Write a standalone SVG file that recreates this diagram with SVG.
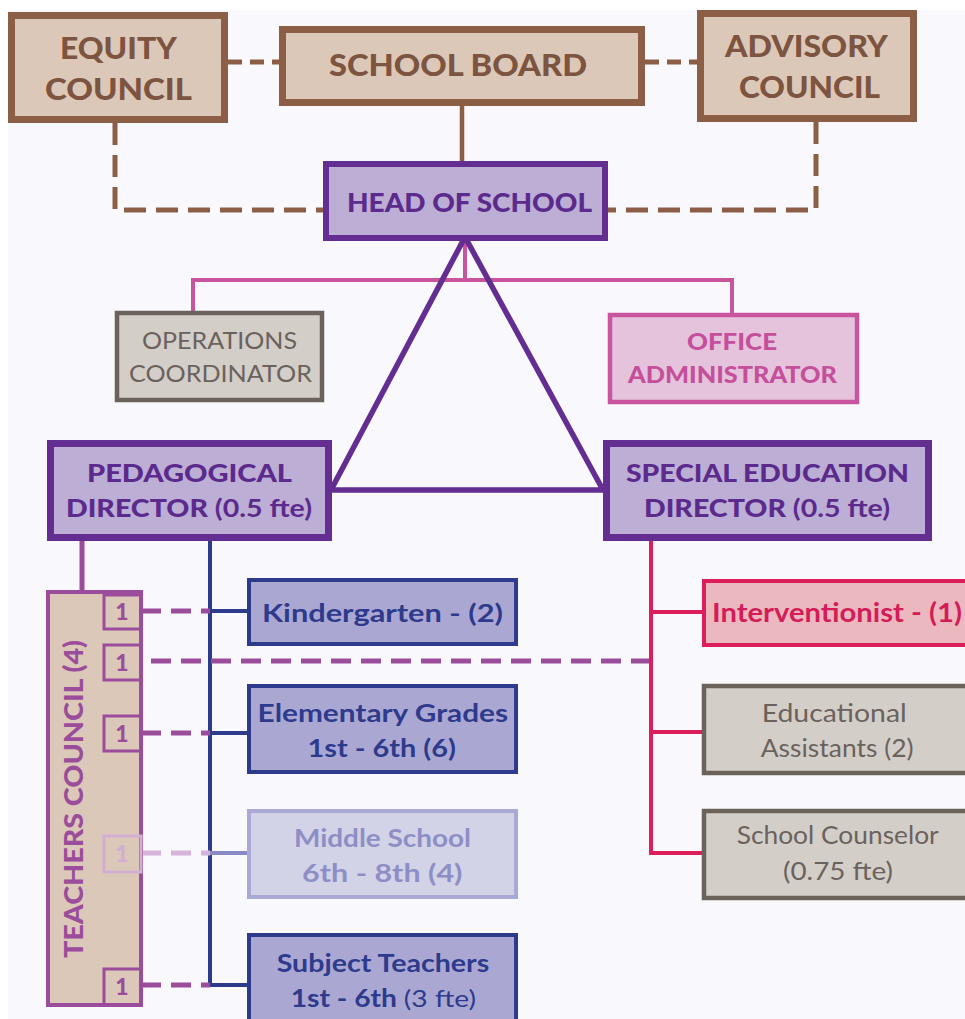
<svg xmlns="http://www.w3.org/2000/svg" width="965" height="1019" viewBox="0 0 965 1019">
<style>
text{font-family:"Lato","Open Sans","Liberation Sans",sans-serif;}
.h{font-weight:900;}
.b{font-weight:700;}
.r{font-weight:400;}
.brown{fill:#dcc8b8;stroke:#8b5e45;stroke-width:7;}
.tb{fill:#7d5440;}
.dir{fill:#bcaed4;stroke:#632d91;stroke-width:7;}
.tp{fill:#5c2a8c;}
.gray{fill:#d4cec9;stroke:#6c625c;stroke-width:4.5;}
.tg{fill:#6b625d;}
.blue{fill:#aaa8d3;stroke:#2e3a8c;stroke-width:4;}
.tbl{fill:#2e3a8c;}
.one{fill:none;stroke:#9b4d9c;stroke-width:3;}
.t1{fill:#9b4d9c;font-weight:900;font-size:23px;text-anchor:middle;}
.dbrown{fill:none;stroke:#8b5e45;stroke-width:5;stroke-dasharray:22 10;}
.dpurp{fill:none;stroke:#9b4d9c;stroke-width:5;stroke-dasharray:20 10;}
</style>
<rect x="8" y="10" width="957" height="1009" fill="#f8f8fd"/>

<g id="connectors">
  <path class="dbrown" d="M228 62 H279" style="stroke-dasharray:14 8"/>
  <path class="dbrown" d="M645 62 H697" style="stroke-dasharray:14 8"/>
  <path class="dbrown" d="M115 123 V210 H323"/>
  <path class="dbrown" d="M816 122 V210 H608"/>
  <path d="M462 106 V161" stroke="#8b5e45" stroke-width="4.5" fill="none"/>
  <path d="M465 240 V280 M193 312 V280 H732 V313" stroke="#c9559f" stroke-width="4" fill="none"/>
  <path d="M465 237 L331 490 H603 Z" stroke="#632d91" stroke-width="5.5" fill="none" stroke-linejoin="miter"/>
  <path d="M82 541 V591" stroke="#9b4d9c" stroke-width="5" fill="none"/>
  <path d="M210 541 V985 H247 M210 611 H247 M210 733 H247" stroke="#2e3a8c" stroke-width="4" fill="none"/>
  <path d="M210 853 H247" stroke="#8a8ac6" stroke-width="4" fill="none"/>
  <path class="dpurp" d="M141 611 H210"/>
  <path class="dpurp" d="M651 661 H141"/>
  <path class="dpurp" d="M141 733 H210"/>
  <path class="dpurp" d="M141 853 H210" style="stroke:#d6b3d8"/>
  <path class="dpurp" d="M141 985 H210"/>
  <path d="M651 541 V853 H703 M651 612 H703 M651 732 H703" stroke="#dc1e5a" stroke-width="4" fill="none"/>
</g>

<g id="equity-council">
  <rect class="brown" x="11.5" y="15.5" width="213" height="104"/>
  <text class="h tb" x="118.5" y="59" font-size="31" text-anchor="middle" textLength="117" lengthAdjust="spacingAndGlyphs">EQUITY</text>
  <text class="h tb" x="118.5" y="100" font-size="31" text-anchor="middle" textLength="147" lengthAdjust="spacingAndGlyphs">COUNCIL</text>
</g>
<g id="school-board">
  <rect class="brown" x="282.5" y="29.5" width="359" height="73"/>
  <text class="h tb" x="458" y="76" font-size="30" text-anchor="middle" textLength="258" lengthAdjust="spacingAndGlyphs">SCHOOL BOARD</text>
</g>
<g id="advisory-council">
  <rect class="brown" x="700.5" y="13.5" width="213" height="105"/>
  <text class="h tb" x="806.5" y="57" font-size="31" text-anchor="middle" textLength="163" lengthAdjust="spacingAndGlyphs">ADVISORY</text>
  <text class="h tb" x="809.5" y="98" font-size="31" text-anchor="middle" textLength="141" lengthAdjust="spacingAndGlyphs">COUNCIL</text>
</g>
<g id="head-of-school">
  <rect class="dir" x="326" y="164" width="279" height="74" style="stroke-width:6"/>
  <text class="h tp" x="469.5" y="212" font-size="27" text-anchor="middle" textLength="245" lengthAdjust="spacingAndGlyphs">HEAD OF SCHOOL</text>
</g>
<g id="operations-coordinator">
  <rect class="gray" x="117" y="313" width="205" height="87"/>
  <text class="r tg" x="219.5" y="349" font-size="24" text-anchor="middle" textLength="155" lengthAdjust="spacingAndGlyphs">OPERATIONS</text>
  <text class="r tg" x="220.5" y="382" font-size="24" text-anchor="middle" textLength="183" lengthAdjust="spacingAndGlyphs">COORDINATOR</text>
</g>
<g id="office-administrator">
  <rect x="610" y="315" width="247" height="87" fill="#e5c3dc" stroke="#c9559f" stroke-width="4.5"/>
  <text class="h" fill="#c64f9b" x="732" y="350" font-size="23" text-anchor="middle" textLength="90" lengthAdjust="spacingAndGlyphs">OFFICE</text>
  <text class="h" fill="#c64f9b" x="732.5" y="383" font-size="23" text-anchor="middle" textLength="209" lengthAdjust="spacingAndGlyphs">ADMINISTRATOR</text>
</g>
<g id="pedagogical-director">
  <rect class="dir" x="50.5" y="443.5" width="278" height="94"/>
  <text class="h tp" x="189.5" y="482" font-size="25" text-anchor="middle" textLength="205" lengthAdjust="spacingAndGlyphs">PEDAGOGICAL</text>
  <text class="tp" x="66" y="517" font-size="25" textLength="246" lengthAdjust="spacingAndGlyphs"><tspan class="h">DIRECTOR </tspan><tspan class="b">(0.5 fte)</tspan></text>
</g>
<g id="special-education-director">
  <rect class="dir" x="606.5" y="443.5" width="322" height="94"/>
  <text class="h tp" x="767.5" y="482" font-size="25" text-anchor="middle" textLength="283" lengthAdjust="spacingAndGlyphs">SPECIAL EDUCATION</text>
  <text class="tp" x="644" y="517" font-size="25" textLength="246" lengthAdjust="spacingAndGlyphs"><tspan class="h">DIRECTOR </tspan><tspan class="b">(0.5 fte)</tspan></text>
</g>
<g id="teachers-council">
  <rect x="48" y="592" width="93" height="413" fill="#dcc8b8" stroke="#9b4d9c" stroke-width="4"/>
  <text class="h" fill="#9b4d9c" x="0" y="0" font-size="27" text-anchor="middle" textLength="318" lengthAdjust="spacingAndGlyphs" transform="translate(83 799) rotate(-90)">TEACHERS COUNCIL (4)</text>
  <rect class="one" x="104" y="595" width="37" height="34"/>
  <text class="t1" x="122" y="620">1</text>
  <rect class="one" x="104" y="645" width="37" height="35"/>
  <text class="t1" x="122" y="671">1</text>
  <rect class="one" x="104" y="716" width="37" height="35"/>
  <text class="t1" x="122" y="742">1</text>
  <rect class="one" x="104" y="836" width="37" height="36" style="stroke:#d2aed4"/>
  <text class="t1" x="122" y="862" style="fill:#d2aed4">1</text>
  <rect class="one" x="104" y="969" width="37" height="36"/>
  <text class="t1" x="122" y="995">1</text>
</g>
<g id="kindergarten">
  <rect class="blue" x="249" y="580" width="267" height="64"/>
  <text class="b tbl" x="262" y="622" font-size="25" textLength="241" lengthAdjust="spacingAndGlyphs">Kindergarten - (2)</text>
</g>
<g id="elementary-grades">
  <rect class="blue" x="249" y="686" width="267" height="86"/>
  <text class="b tbl" x="257.6" y="722" font-size="24" textLength="250.5" lengthAdjust="spacingAndGlyphs">Elementary Grades</text>
  <text class="b tbl" x="307.5" y="757" font-size="24" textLength="148.5" lengthAdjust="spacingAndGlyphs">1st - 6th (6)</text>
</g>
<g id="middle-school">
  <rect x="249" y="811" width="267" height="86" fill="#d3d3e8" stroke="#a9a9d6" stroke-width="4"/>
  <text class="b" fill="#8e8ec6" x="294" y="847" font-size="24" textLength="177" lengthAdjust="spacingAndGlyphs">Middle School</text>
  <text class="b" fill="#8e8ec6" x="302" y="882" font-size="24" textLength="160.5" lengthAdjust="spacingAndGlyphs">6th - 8th (4)</text>
</g>
<g id="subject-teachers">
  <rect class="blue" x="249" y="935" width="267" height="100"/>
  <text class="b tbl" x="276.7" y="972" font-size="24" textLength="212.6" lengthAdjust="spacingAndGlyphs">Subject Teachers</text>
  <text class="tbl" x="290.7" y="1007" font-size="24" textLength="185.3" lengthAdjust="spacingAndGlyphs"><tspan class="b">1st - 6th </tspan><tspan class="r">(3 fte)</tspan></text>
</g>
<g id="interventionist">
  <rect x="704" y="581" width="270" height="64" fill="#ecb8c0" stroke="#dc1e5a" stroke-width="4"/>
  <text class="b" fill="#d41c58" x="712" y="622" font-size="26" textLength="250" lengthAdjust="spacingAndGlyphs">Interventionist - (1)</text>
</g>
<g id="educational-assistants">
  <rect class="gray" x="704" y="686" width="270" height="87"/>
  <text class="r tg" x="761.7" y="722" font-size="25" textLength="145" lengthAdjust="spacingAndGlyphs">Educational</text>
  <text class="r tg" x="760.7" y="757" font-size="25" textLength="153" lengthAdjust="spacingAndGlyphs">Assistants (2)</text>
</g>
<g id="school-counselor">
  <rect class="gray" x="704" y="811" width="270" height="87"/>
  <text class="r tg" x="736.7" y="844" font-size="25" textLength="202" lengthAdjust="spacingAndGlyphs">School Counselor</text>
  <text class="r tg" x="783" y="880" font-size="25" textLength="110" lengthAdjust="spacingAndGlyphs">(0.75 fte)</text>
</g>
</svg>
